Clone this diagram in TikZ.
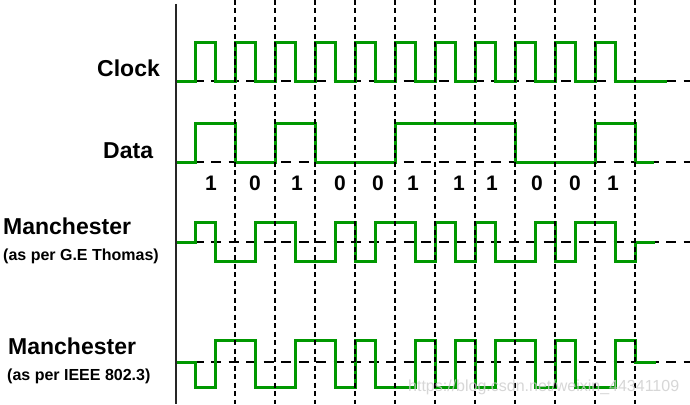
\documentclass[tikz,border=0pt]{standalone}
\usepackage{fontspec}
\setmainfont{Liberation Sans}
\definecolor{sigGreen}{RGB}{0,152,0}
\definecolor{markGray}{RGB}{205,205,205}
\begin{document}
\begin{tikzpicture}[x=1pt,y=-1pt,
  wave/.style={line width=3pt, draw=sigGreen, line join=miter},
  hdash/.style={line width=2.6pt, draw=black, dash pattern=on 10pt off 7.5pt},
  vdash/.style={line width=1.8pt, draw=black, dash pattern=on 5pt off 3.5pt},
  axisline/.style={line width=1.8pt, draw=black!85},
  lbl/.style={font=\fontsize{23}{26}\selectfont\bfseries, anchor=base west, inner sep=0pt},
  sublbl/.style={font=\fontsize{16}{19}\selectfont\bfseries, anchor=base west, inner sep=0pt},
  bit/.style={font=\fontsize{21}{24}\selectfont\bfseries, anchor=base, inner sep=0pt},
  wmtext/.style={font=\fontsize{16}{19}\selectfont, text=markGray, anchor=base west, inner sep=0pt}]
\useasboundingbox (0,0) rectangle (690,404);
\fill[white] (0,0) rectangle (690,404);
% baselines
\draw[hdash] (176,81) -- (690,81);
\draw[hdash] (176,162) -- (690,162);
\draw[hdash] (176,242) -- (690,242);
\draw[hdash] (176,362) -- (690,362);
% clock
\draw[wave] (176,81) foreach \k in {0,...,10} { -- ({195+40*\k},81) -- ({195+40*\k},43) -- ({215+40*\k},43) -- ({215+40*\k},81) } -- (667,81);
% data
\draw[wave] (176,162) -- (195,162) -- (195,123) -- (235,123) -- (235,162) -- (275,162) -- (275,123) -- (315,123) -- (315,162) -- (395,162) -- (395,123) -- (515,123) -- (515,162) -- (595,162) -- (595,123) -- (635,123) -- (635,162) -- (654,162);
% Manchester G.E Thomas
\draw[wave] (176,242) -- (195,242) -- (195,222) -- (215,222) -- (215,261) -- (255,261) -- (255,222) -- (295,222) -- (295,261) -- (335,261) -- (335,222) -- (355,222) -- (355,261) -- (375,261) -- (375,222) -- (415,222) -- (415,261) -- (435,261) -- (435,222) -- (455,222) -- (455,261) -- (475,261) -- (475,222) -- (495,222) -- (495,261) -- (535,261) -- (535,222) -- (555,222) -- (555,261) -- (575,261) -- (575,222) -- (615,222) -- (615,261) -- (635,261) -- (635,242) -- (655,242);
% Manchester IEEE 802.3
\draw[wave] (176,362) -- (195,362) -- (195,387) -- (215,387) -- (215,340) -- (255,340) -- (255,387) -- (295,387) -- (295,340) -- (335,340) -- (335,387) -- (355,387) -- (355,340) -- (375,340) -- (375,387) -- (415,387) -- (415,340) -- (435,340) -- (435,387) -- (455,387) -- (455,340) -- (475,340) -- (475,387) -- (495,387) -- (495,340) -- (535,340) -- (535,387) -- (555,387) -- (555,340) -- (575,340) -- (575,387) -- (615,387) -- (615,340) -- (635,340) -- (635,362) -- (656,362);
% vertical dashed lines
\foreach \k in {0,...,10} { \draw[vdash] ({235+40*\k},0) -- ({235+40*\k},404); }
% axis
\draw[axisline] (176,4) -- (176,404);
% labels
\node[lbl] (clk) at (97,76) {Clock};
\node[lbl] (dat) at (103,158) {Data};
\node[lbl] (m1) at (3,234) {Manchester};
\node[sublbl] (m1s) at (3,260) {(as per G.E Thomas)};
\node[lbl] (m2) at (8,354) {Manchester};
\node[sublbl] (m2s) at (7,380) {(as per IEEE 802.3)};
% bits
\foreach \x/\b [count=\i] in {211/1,255/0,297/1,340/0,378/0,413/1,459/1,492/1,537/0,575/0,613/1} {
  \node[bit] (b\i) at (\x,190) {\b};
}
% watermark
\node[wmtext, opacity=0.8] (wm) at (408,391) {https://blog.csdn.net/weixin\_44341109};
\end{tikzpicture}
\end{document}
